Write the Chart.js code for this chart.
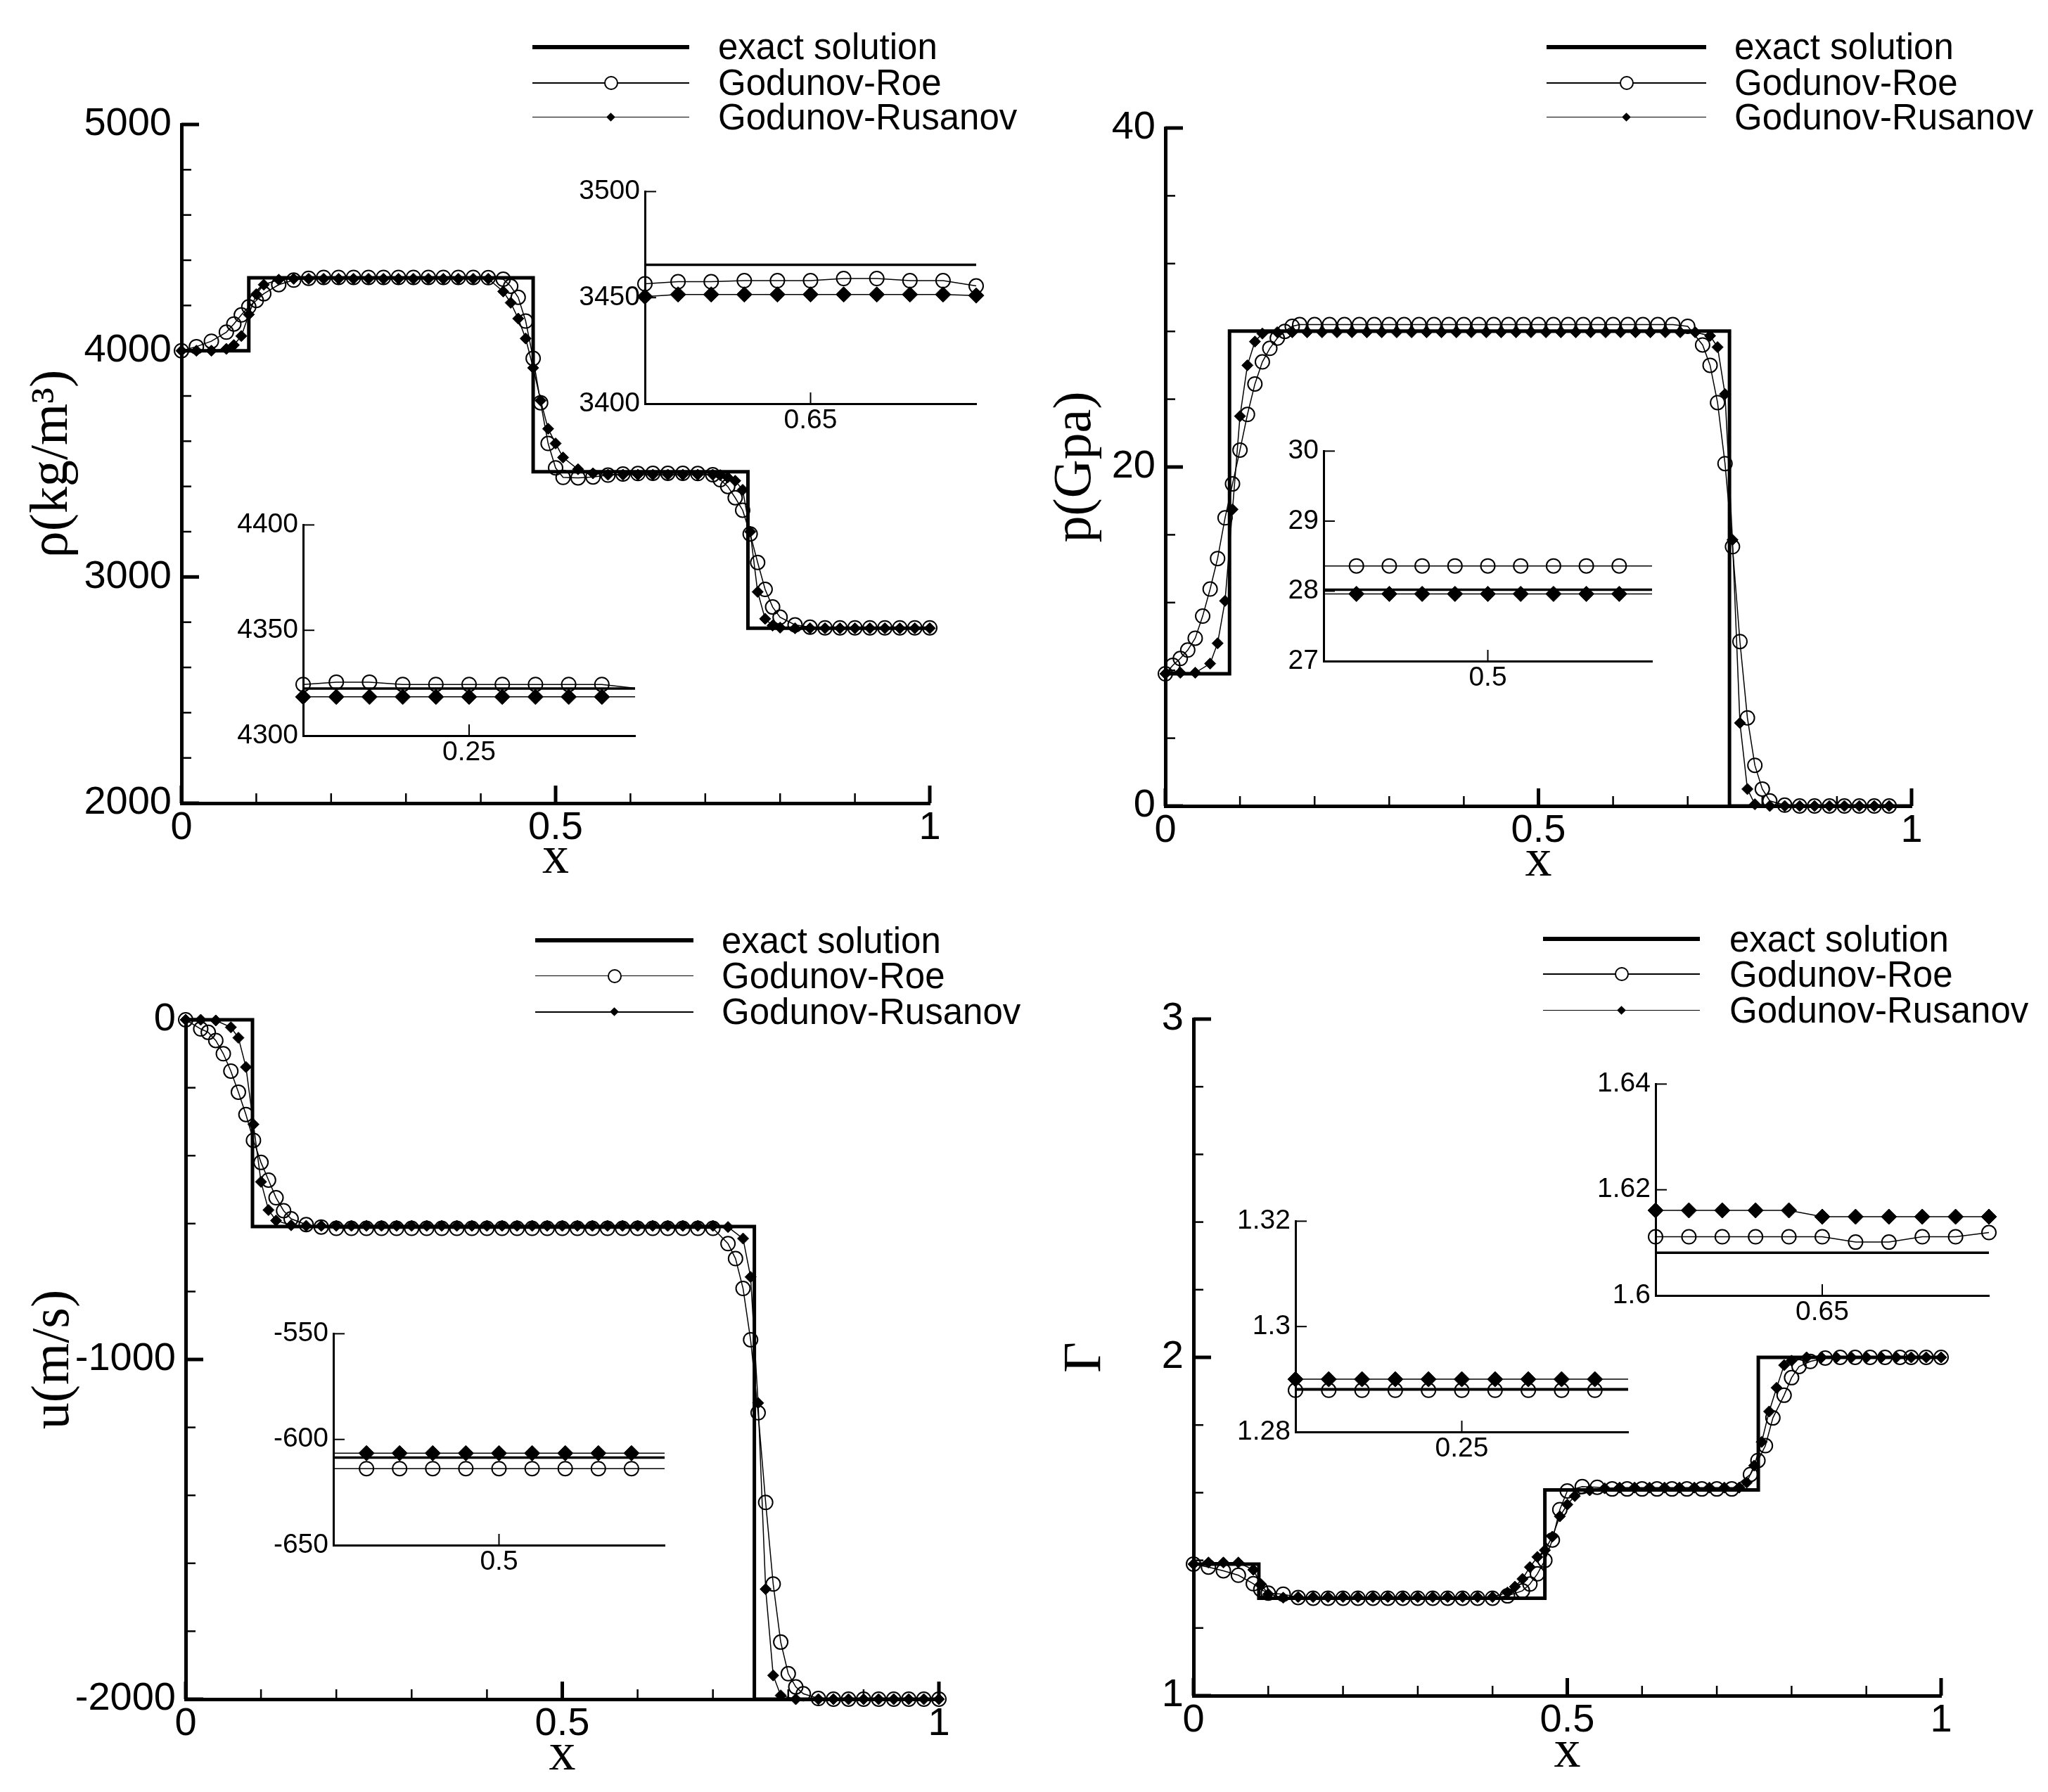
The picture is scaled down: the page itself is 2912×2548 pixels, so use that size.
<!DOCTYPE html>
<html>
<head>
<meta charset="utf-8">
<script src="https://cdn.jsdelivr.net/npm/chart.js"></script>
<style>
  html, body { margin: 0; padding: 0; background: #fff; }
  body { width: 2912px; height: 2548px; position: relative; overflow: hidden;
         font-family: "Liberation Sans", Arial, sans-serif; }
  .abs { position: absolute; }
  .legtext { position: absolute; font-size: 51px; line-height: 51px; color: #000; white-space: nowrap; }
</style>
</head>
<body>
<script>
// ---------- density rho ----------
const rhoX = [0, 0.02, 0.04, 0.06, 0.07, 0.08, 0.09, 0.10, 0.11, 0.13, 0.15, 0.17, 0.19, 0.21, 0.23, 0.25, 0.27, 0.29, 0.31, 0.33, 0.35, 0.37, 0.39, 0.41, 0.43, 0.44, 0.45, 0.46, 0.47, 0.48, 0.49, 0.50, 0.51, 0.53, 0.55, 0.57, 0.59, 0.61, 0.63, 0.65, 0.67, 0.69, 0.71, 0.72, 0.73, 0.74, 0.75, 0.76, 0.77, 0.78, 0.79, 0.80, 0.82, 0.84, 0.86, 0.88, 0.90, 0.92, 0.94, 0.96, 0.98, 1.00];
const rhoRoe = [4000, 4018, 4042, 4082, 4118, 4158, 4194, 4222, 4252, 4292, 4312, 4320,
  4324, 4324, 4324, 4324, 4324, 4324, 4324, 4324, 4324, 4324, 4324, 4323,
  4316, 4285, 4236, 4131, 3966, 3770, 3590, 3482, 3440,
  3438, 3442, 3450, 3455, 3457, 3458, 3458, 3458, 3457, 3452,
  3430, 3400, 3350, 3295, 3190, 3064, 2945, 2867, 2822,
  2788, 2778, 2775, 2775, 2775, 2775, 2775, 2775, 2775, 2775];
const rhoRus = [4000, 4000, 4000, 4008, 4025, 4065, 4160, 4250, 4292, 4314, 4318, 4318,
  4318, 4318, 4318, 4318, 4318, 4318, 4318, 4318, 4318, 4318, 4318, 4318,
  4262, 4212, 4142, 4054, 3924, 3780, 3655, 3590, 3528,
  3476, 3458, 3452, 3452, 3452, 3452, 3452, 3452, 3452, 3452,
  3450, 3440, 3425, 3385, 3200, 2934, 2815, 2785, 2776,
  2773, 2773, 2773, 2773, 2773, 2773, 2773, 2773, 2773, 2773];
const rhoExactX = [0, 0.09, 0.09, 0.47, 0.47, 0.757, 0.757, 1];
const rhoExactY = [4000, 4000, 4322, 4322, 3465, 3465, 2773, 2773];
const rhoTicks = [2000, 3000, 4000, 5000];
const rhoMinor = [2200, 2400, 2600, 2800, 3200, 3400, 3600, 3800, 4200, 4400, 4600, 4800];

// ---------- pressure p ----------
const pRoeX = [0, 0.01, 0.02, 0.03, 0.04, 0.05, 0.06, 0.07, 0.08, 0.09, 0.10, 0.11, 0.12, 0.13, 0.14, 0.15, 0.16, 0.17,
  0.18, 0.20, 0.22, 0.24, 0.26, 0.28, 0.30, 0.32, 0.34, 0.36, 0.38, 0.40, 0.42, 0.44, 0.46, 0.48, 0.50, 0.52, 0.54, 0.56, 0.58, 0.60, 0.62, 0.64, 0.66, 0.68, 0.70,
  0.72, 0.73, 0.74, 0.75, 0.76, 0.77, 0.78, 0.79, 0.80, 0.81, 0.83, 0.85, 0.87, 0.89, 0.91, 0.93, 0.95, 0.97];
const pRoe = [7.8, 8.3, 8.7, 9.2, 9.9, 11.2, 12.8, 14.6, 17.0, 19.0, 21.0, 23.1, 24.9, 26.2, 27.0, 27.6, 28.0, 28.3,
  28.4, 28.4, 28.4, 28.4, 28.4, 28.4, 28.4, 28.4, 28.4, 28.4, 28.4, 28.4, 28.4, 28.4, 28.4, 28.4, 28.4, 28.4, 28.4, 28.4, 28.4, 28.4, 28.4, 28.4, 28.4, 28.4, 28.3,
  27.2, 26.0, 23.8, 20.2, 15.3, 9.7, 5.2, 2.4, 1.0, 0.3, 0.05, 0, 0, 0, 0, 0, 0, 0];
const pRusX = [0, 0.02, 0.04, 0.06, 0.07, 0.08, 0.09, 0.10, 0.11, 0.12, 0.13,
  0.15, 0.17, 0.19, 0.21, 0.23, 0.25, 0.27, 0.29, 0.31, 0.33, 0.35, 0.37, 0.39, 0.41, 0.43, 0.45, 0.47, 0.49, 0.51, 0.53, 0.55, 0.57, 0.59, 0.61, 0.63, 0.65, 0.67, 0.69, 0.71,
  0.73, 0.74, 0.75, 0.76, 0.77, 0.78, 0.79, 0.81, 0.83, 0.85, 0.87, 0.89, 0.91, 0.93, 0.95, 0.97];
const pRus = [7.8, 7.86, 7.86, 8.4, 9.6, 12.1, 17.5, 23.0, 26.0, 27.4, 27.87,
  27.95, 27.95, 27.95, 27.95, 27.95, 27.95, 27.95, 27.95, 27.95, 27.95, 27.95, 27.95, 27.95, 27.95, 27.95, 27.95, 27.95, 27.95, 27.95, 27.95, 27.95, 27.95, 27.95, 27.95, 27.95, 27.95, 27.95, 27.95, 27.95,
  27.74, 27.07, 24.3, 15.7, 4.9, 1.0, 0.1, 0, 0, 0, 0, 0, 0, 0, 0, 0];
const pExactX = [0, 0.086, 0.086, 0.756, 0.756, 1];
const pExactY = [7.8, 7.8, 28.02, 28.02, 0, 0];
const pTicks = [0, 20, 40];
const pMinor = [4, 8, 12, 16, 24, 28, 32, 36];

// ---------- velocity u ----------
const uRoeX = [0, 0.02, 0.03, 0.04, 0.05, 0.06, 0.07, 0.08, 0.09, 0.10, 0.11, 0.12, 0.13, 0.14, 0.16, 0.18,
  0.20, 0.22, 0.24, 0.26, 0.28, 0.30, 0.32, 0.34, 0.36, 0.38, 0.40, 0.42, 0.44, 0.46, 0.48, 0.50, 0.52, 0.54, 0.56, 0.58, 0.60, 0.62, 0.64, 0.66, 0.68, 0.70,
  0.72, 0.73, 0.74, 0.75, 0.76, 0.77, 0.78, 0.79, 0.80, 0.81, 0.82, 0.84, 0.86, 0.88, 0.90, 0.92, 0.94, 0.96, 0.98, 1.00];
const uRoe = [0, -27, -37, -61, -100, -151, -213, -279, -355, -420, -472, -524, -562, -586, -603, -610,
  -614, -614, -614, -614, -614, -614, -614, -614, -614, -614, -614, -614, -614, -614, -614, -614, -614, -614, -614, -614, -614, -614, -614, -614, -614, -614,
  -659, -703, -791, -942, -1157, -1421, -1661, -1832, -1925, -1964, -1984, -1998, -2000, -2000, -2000, -2000, -2000, -2000, -2000, -2000];
const uRusX = [0, 0.02, 0.04, 0.06, 0.07, 0.08, 0.09, 0.10, 0.11, 0.12, 0.14,
  0.16, 0.18, 0.20, 0.22, 0.24, 0.26, 0.28, 0.30, 0.32, 0.34, 0.36, 0.38, 0.40, 0.42, 0.44, 0.46, 0.48, 0.50, 0.52, 0.54, 0.56, 0.58, 0.60, 0.62, 0.64, 0.66, 0.68, 0.70,
  0.72, 0.74, 0.75, 0.76, 0.77, 0.78, 0.79, 0.81, 0.84, 0.86, 0.88, 0.90, 0.92, 0.94, 0.96, 0.98, 1.00];
const uRus = [0, 0, -2, -22, -53, -139, -308, -477, -560, -591, -605,
  -606.5, -606.5, -606.5, -606.5, -606.5, -606.5, -606.5, -606.5, -606.5, -606.5, -606.5, -606.5, -606.5, -606.5, -606.5, -606.5, -606.5, -606.5, -606.5, -606.5, -606.5, -606.5, -606.5, -606.5, -606.5, -606.5, -606.5, -606.5,
  -610, -644, -757, -1128, -1676, -1930, -1989, -2000, -2000, -2000, -2000, -2000, -2000, -2000, -2000, -2000, -2000];
const uExactX = [0, 0.0887, 0.0887, 0.755, 0.755, 1];
const uExactY = [0, 0, -608.6, -608.6, -2000, -2000];
const uTicks = [-2000, -1000, 0];
const uMinor = [-1800, -1600, -1400, -1200, -800, -600, -400, -200];

// ---------- Gamma ----------
const gRoeX = [0, 0.02, 0.04, 0.06, 0.08, 0.09, 0.10, 0.12, 0.14,
  0.16, 0.18, 0.20, 0.22, 0.24, 0.26, 0.28, 0.30, 0.32, 0.34, 0.36, 0.38, 0.40,
  0.42, 0.44, 0.45, 0.46, 0.47, 0.48, 0.49, 0.50, 0.52, 0.54,
  0.56, 0.58, 0.60, 0.62, 0.64, 0.66, 0.68, 0.70, 0.72,
  0.745, 0.755, 0.765, 0.775, 0.79, 0.80, 0.81, 0.825, 0.845, 0.865, 0.885, 0.905, 0.925, 0.945, 0.96, 0.98, 1.00];
const gRoe = [1.389, 1.380, 1.369, 1.356, 1.331, 1.314, 1.303, 1.300, 1.290,
  1.288, 1.288, 1.288, 1.288, 1.288, 1.288, 1.288, 1.288, 1.288, 1.288, 1.288, 1.288, 1.288,
  1.295, 1.31, 1.33, 1.36, 1.40, 1.46, 1.55, 1.605, 1.618, 1.616,
  1.611, 1.611, 1.611, 1.611, 1.611, 1.611, 1.611, 1.611, 1.611,
  1.654, 1.695, 1.739, 1.821, 1.888, 1.94, 1.973, 1.988, 1.998, 2.0, 2.0, 2.0, 2.0, 2.0, 2.0, 2.0, 2.0];
const gRusX = [0, 0.02, 0.04, 0.06, 0.08, 0.09, 0.10, 0.12,
  0.14, 0.16, 0.18, 0.20, 0.22, 0.24, 0.26, 0.28, 0.30, 0.32, 0.34, 0.36, 0.38, 0.40,
  0.42, 0.43, 0.44, 0.45, 0.46, 0.47, 0.48, 0.49, 0.50, 0.51, 0.53, 0.55,
  0.57, 0.59, 0.61, 0.63, 0.65, 0.67, 0.69, 0.71, 0.73,
  0.74, 0.75, 0.76, 0.77, 0.78, 0.79, 0.80, 0.82, 0.84, 0.86, 0.88, 0.90, 0.92, 0.94, 0.96, 0.98, 1.00];
const gRus = [1.389, 1.3935, 1.3935, 1.3935, 1.372, 1.33, 1.30, 1.2896,
  1.2917, 1.2917, 1.2917, 1.2917, 1.2917, 1.2917, 1.2917, 1.2917, 1.2917, 1.2917, 1.2917, 1.2917, 1.2917, 1.2917,
  1.305, 1.322, 1.345, 1.38, 1.41, 1.43, 1.47, 1.53, 1.565, 1.59, 1.607, 1.613,
  1.615, 1.615, 1.615, 1.615, 1.615, 1.615, 1.615, 1.615, 1.615,
  1.63, 1.68, 1.75, 1.84, 1.91, 1.977, 1.99, 2.0, 2.0, 2.0, 2.0, 2.0, 2.0, 2.0, 2.0, 2.0, 2.0];
const gExactX = [0, 0.0874, 0.0874, 0.47, 0.47, 0.7555, 0.7555, 1];
const gExactY = [1.389, 1.389, 1.2881, 1.2881, 1.6081, 1.6081, 2.0, 2.0];
const gTicks = [1, 2, 3];
const gMinor = [1.2, 1.4, 1.6, 1.8, 2.2, 2.4, 2.6, 2.8];

const xTicks = [0, 0.5, 1];
const xMinor = [0.1, 0.2, 0.3, 0.4, 0.6, 0.7, 0.8, 0.9];

// ---------- zoomed insets ----------
const winA = [0.55, 0.57, 0.59, 0.61, 0.63, 0.65, 0.67, 0.69, 0.71, 0.73, 0.75];
const winB = [0.15, 0.17, 0.19, 0.21, 0.23, 0.25, 0.27, 0.29, 0.31, 0.33, 0.35];
const winC = [0.40, 0.42, 0.44, 0.46, 0.48, 0.50, 0.52, 0.54, 0.56, 0.58, 0.60];

const rhoInARoe = [3456.5, 3457.5, 3457.5, 3458, 3458, 3458, 3459, 3459, 3458, 3458, 3455.5];
const rhoInARus = [3450.5, 3451.5, 3451.5, 3451.5, 3451.5, 3451.5, 3451.5, 3451.5, 3451.5, 3451.5, 3451];
const rhoInAExact = 3465.5;
const rhoInBRoe = [4324.3, 4325.4, 4325.4, 4324.3, 4324.3, 4324.3, 4324.3, 4324.3, 4324.3, 4324.3, 4322.5];
const rhoInBRus = [4318.4, 4318.4, 4318.4, 4318.4, 4318.4, 4318.4, 4318.4, 4318.4, 4318.4, 4318.4, 4318.4];
const rhoInBExact = 4322.4;
const pInRoe = [28.36, 28.36, 28.36, 28.36, 28.36, 28.36, 28.36, 28.36, 28.36, 28.36, 28.36];
const pInRus = [27.96, 27.96, 27.96, 27.96, 27.96, 27.96, 27.96, 27.96, 27.96, 27.96, 27.96];
const pInExact = 28.02;
const uInRoe = [-613.8, -613.8, -613.8, -613.8, -613.8, -613.8, -613.8, -613.8, -613.8, -613.8, -613.8];
const uInRus = [-606.5, -606.5, -606.5, -606.5, -606.5, -606.5, -606.5, -606.5, -606.5, -606.5, -606.5];
const uInExact = -608.6;
const gInARoe = [1.2879, 1.2879, 1.2879, 1.2879, 1.2879, 1.2879, 1.2879, 1.2879, 1.2879, 1.2879, 1.2879];
const gInARus = [1.2900, 1.2900, 1.2900, 1.2900, 1.2900, 1.2900, 1.2900, 1.2900, 1.2900, 1.2900, 1.2900];
const gInAExact = 1.2881;
const gInBRoe = [1.6111, 1.6111, 1.6111, 1.6111, 1.6111, 1.6111, 1.6101, 1.6101, 1.6111, 1.6111, 1.6119];
const gInBRus = [1.6161, 1.6161, 1.6161, 1.6161, 1.6161, 1.6149, 1.6149, 1.6149, 1.6149, 1.6149, 1.6149];
const gInBExact = 1.6081;

// ---------- helpers ----------
Chart.defaults.color = '#000';
Chart.defaults.font.family = '"Liberation Sans", Arial, sans-serif';

function pts(xs, ys) { return xs.map((x, i) => ({ x: x, y: ys[i] })); }

function place(left, top, w, h) {
  const c = document.createElement('canvas');
  c.width = w; c.height = h;
  c.style.cssText = 'position:absolute;left:' + left + 'px;top:' + top + 'px;width:' + w + 'px;height:' + h + 'px';
  document.body.appendChild(c);
  return c;
}

// ticks pointing into the plot, as in the original figure
const inTicks = {
  id: 'inTicks',
  afterDraw(chart, args, o) {
    const { ctx, chartArea: a, scales: { x, y } } = chart;
    ctx.save();
    ctx.strokeStyle = '#000';
    const seg = (x0, y0, x1, y1, w) => { ctx.lineWidth = w; ctx.beginPath(); ctx.moveTo(x0, y0); ctx.lineTo(x1, y1); ctx.stroke(); };
    (o.xMajor || []).forEach(v => { const px = x.getPixelForValue(v); seg(px, a.bottom, px, a.bottom - o.len, o.w); });
    (o.xMinor || []).forEach(v => { const px = x.getPixelForValue(v); seg(px, a.bottom, px, a.bottom - o.minLen, o.minW); });
    (o.yMajor || []).forEach(v => { const py = y.getPixelForValue(v); seg(a.left, py, a.left + o.len, py, o.w); });
    (o.yMinor || []).forEach(v => { const py = y.getPixelForValue(v); seg(a.left, py, a.left + o.minLen, py, o.minW); });
    ctx.restore();
  }
};

function sets(roe, rus, exact, sz, mark) {
  const vis = r => (mark ? (c => { const v = c.raw ? c.raw.x : 0; return (v >= mark[0] - 1e-6 && v <= mark[1] + 1e-6) ? r : 0; }) : r);
  return [
    { data: rus, showLine: true, borderColor: '#000', borderWidth: sz.thin, pointStyle: 'rectRot',
      pointRadius: vis(sz.dia), pointBackgroundColor: '#000', pointBorderColor: '#000', pointBorderWidth: 1, clip: false },
    { data: roe, showLine: true, borderColor: '#000', borderWidth: sz.thin, pointStyle: 'circle',
      pointRadius: vis(sz.circ), pointBackgroundColor: 'rgba(0,0,0,0)', pointBorderColor: '#000', pointBorderWidth: 2, clip: false },
    { data: exact, showLine: true, borderColor: '#000', borderWidth: sz.thick, pointRadius: 0, clip: false }
  ];
}

function mainPlot(c) {
  const padL = 250, padT = 50, padR = 50, padB = 130;
  const [L, T, R, B] = c.area;
  const left = L - padL, top = T - padT;
  const w = R - L + padL + padR, h = B - T + padT + padB;
  const lh = 76;
  new Chart(place(left, top, w, h), {
    type: 'scatter',
    data: { datasets: sets(c.roe, c.rus, c.exact, { thin: 1.5, thick: 5, dia: 8, circ: 10 }) },
    options: {
      responsive: false, animation: false, events: [], devicePixelRatio: 1,
      layout: { padding: { left: 0, top: padT, right: padR, bottom: 0 } },
      plugins: { legend: { display: false }, tooltip: { enabled: false },
        inTicks: { xMajor: xTicks, xMinor: xMinor, yMajor: c.yTicks, yMinor: c.yMinor, len: 25, minLen: 14, w: 5, minW: 2.5 } },
      scales: {
        x: { type: 'linear', min: 0, max: 1,
          grid: { display: false, drawTicks: false }, border: { display: true, color: '#000', width: 5 },
          afterFit: s => { s.height = padB; },
          afterBuildTicks: s => { s.ticks = xTicks.map(v => ({ value: v })); },
          ticks: { autoSkip: false, maxRotation: 0, padding: 2, font: { size: 56 }, callback: v => String(v) },
          title: { display: true, text: 'x', color: '#000',
            font: { family: '"Liberation Serif", "Times New Roman", serif', size: 76, lineHeight: 1 },
            padding: { top: 0, bottom: (top + h) - c.xTitleY - lh / 2 } } },
        y: { type: 'linear', min: c.yRange[0], max: c.yRange[1],
          grid: { display: false, drawTicks: false }, border: { display: true, color: '#000', width: 5 },
          afterFit: s => { s.width = padL; },
          afterBuildTicks: s => { s.ticks = c.yTicks.map(v => ({ value: v })); },
          ticks: { autoSkip: false, padding: 14, font: { size: 56 }, callback: v => String(v) },
          title: { display: true, text: c.yTitle, color: '#000',
            font: { family: '"Liberation Serif", "Times New Roman", serif', size: 76, lineHeight: 1 },
            padding: { top: c.yTitleX - left - lh / 2, bottom: 0 } } }
      }
    },
    plugins: [inTicks]
  });
}

function inset(c) {
  const padL = 120, padT = 30, padR = 24, padB = 60;
  const [L, T, R, B] = c.area;
  const w = R - L + padL + padR, h = B - T + padT + padB;
  const xs = c.x;
  const ex = [{ x: c.xRange[0], y: c.exact }, { x: c.xRange[1], y: c.exact }];
  new Chart(place(L - padL, T - padT, w, h), {
    type: 'scatter',
    data: { datasets: sets(pts(xs, c.roe), pts(xs, c.rus), ex, { thin: 1.5, thick: 3.5, dia: 11, circ: 10 }, c.mark) },
    options: {
      responsive: false, animation: false, events: [], devicePixelRatio: 1,
      layout: { padding: { left: 0, top: padT, right: padR, bottom: 0 } },
      plugins: { legend: { display: false }, tooltip: { enabled: false },
        inTicks: { xMajor: c.xTicks, yMajor: c.yTicks, len: 16, w: 2 } },
      scales: {
        x: { type: 'linear', min: c.xRange[0], max: c.xRange[1],
          grid: { display: false, drawTicks: false }, border: { display: true, color: '#000', width: 3 },
          afterFit: s => { s.height = padB; },
          afterBuildTicks: s => { s.ticks = c.xTicks.map(v => ({ value: v })); },
          ticks: { autoSkip: false, maxRotation: 0, padding: 1, font: { size: 39 }, callback: v => String(v) } },
        y: { type: 'linear', min: c.yRange[0], max: c.yRange[1],
          grid: { display: false, drawTicks: false }, border: { display: true, color: '#000', width: 3 },
          afterFit: s => { s.width = padL; },
          afterBuildTicks: s => { s.ticks = c.yTicks.map(v => ({ value: v })); },
          ticks: { autoSkip: false, padding: 7, font: { size: 39 }, callback: v => String(v) } }
      }
    },
    plugins: [inTicks]
  });
}

function legend(lineL, lineR, textL, rows) {
  const mid = (lineL + lineR) / 2;
  const add = css => { const d = document.createElement('div'); d.className = 'abs'; d.style.cssText += css; document.body.appendChild(d); return d; };
  const names = ['exact solution', 'Godunov-Roe', 'Godunov-Rusanov'];
  rows.forEach((ry, i) => {
    const lw = i === 0 ? 6 : 1.5;
    add('left:' + lineL + 'px;top:' + (ry - lw / 2) + 'px;width:' + (lineR - lineL) + 'px;height:' + lw + 'px;background:#000;');
    if (i === 1) add('left:' + (mid - 10) + 'px;top:' + (ry - 10) + 'px;width:16px;height:16px;border:2px solid #000;border-radius:50%;background:#fff;');
    if (i === 2) add('left:' + (mid - 4.5) + 'px;top:' + (ry - 4.5) + 'px;width:9px;height:9px;background:#000;transform:rotate(45deg);');
    const t = document.createElement('div');
    t.className = 'legtext';
    t.style.left = textL + 'px';
    t.style.top = (ry - 25.5) + 'px';
    t.textContent = names[i];
    document.body.appendChild(t);
  });
}

// ---------- build ----------
mainPlot({ area: [258, 177, 1322, 1142], yRange: [2000, 5000], yTicks: rhoTicks, yMinor: rhoMinor,
  yTitle: 'ρ(kg/m³)', yTitleX: 75, xTitleY: 1221,
  roe: pts(rhoX, rhoRoe), rus: pts(rhoX, rhoRus), exact: pts(rhoExactX, rhoExactY) });
mainPlot({ area: [1657, 182, 2718, 1146], yRange: [0, 40], yTicks: pTicks, yMinor: pMinor,
  yTitle: 'p(Gpa)', yTitleX: 1530, xTitleY: 1225,
  roe: pts(pRoeX, pRoe), rus: pts(pRusX, pRus), exact: pts(pExactX, pExactY) });
mainPlot({ area: [264, 1450, 1335, 2416], yRange: [-2000, 0], yTicks: uTicks, yMinor: uMinor,
  yTitle: 'u(m/s)', yTitleX: 77, xTitleY: 2496,
  roe: pts(uRoeX, uRoe), rus: pts(uRusX, uRus), exact: pts(uExactX, uExactY) });
mainPlot({ area: [1697, 1449, 2760, 2411], yRange: [1, 3], yTicks: gTicks, yMinor: gMinor,
  yTitle: 'Γ', yTitleX: 1544, xTitleY: 2492,
  roe: pts(gRoeX, gRoe), rus: pts(gRusX, gRus), exact: pts(gExactX, gExactY) });

inset({ area: [917, 272, 1388, 574], xRange: [0.55, 0.75], yRange: [3400, 3500], xTicks: [0.65], yTicks: [3400, 3450, 3500],
  x: winA, roe: rhoInARoe, rus: rhoInARus, exact: rhoInAExact, mark: [0.55, 0.75] });
inset({ area: [431, 746, 903, 1046], xRange: [0.15, 0.35], yRange: [4300, 4400], xTicks: [0.25], yTicks: [4300, 4350, 4400],
  x: winB, roe: rhoInBRoe, rus: rhoInBRus, exact: rhoInBExact, mark: [0.15, 0.33] });
inset({ area: [1882, 641, 2349, 940], xRange: [0.4, 0.6], yRange: [27, 30], xTicks: [0.5], yTicks: [27, 28, 29, 30],
  x: winC, roe: pInRoe, rus: pInRus, exact: pInExact, mark: [0.42, 0.58] });
inset({ area: [474, 1896, 945, 2197], xRange: [0.4, 0.6], yRange: [-650, -550], xTicks: [0.5], yTicks: [-650, -600, -550],
  x: winC, roe: uInRoe, rus: uInRus, exact: uInExact, mark: [0.42, 0.58] });
inset({ area: [1842, 1736, 2315, 2036], xRange: [0.15, 0.35], yRange: [1.28, 1.32], xTicks: [0.25], yTicks: [1.28, 1.3, 1.32],
  x: winB, roe: gInARoe, rus: gInARus, exact: gInAExact, mark: [0.15, 0.33] });
inset({ area: [2354, 1541, 2828, 1842], xRange: [0.55, 0.75], yRange: [1.6, 1.64], xTicks: [0.65], yTicks: [1.6, 1.62, 1.64],
  x: winA, roe: gInBRoe, rus: gInBRus, exact: gInBExact, mark: [0.55, 0.75] });

legend(757, 980, 1021, [66.6, 117.8, 166.5]);
legend(2199, 2426, 2466, [66.6, 117.8, 166.5]);
legend(761, 986, 1026, [1337.4, 1387.7, 1438.9]);
legend(2194, 2417, 2459, [1335, 1385, 1436.5]);
</script>
</body>
</html>
